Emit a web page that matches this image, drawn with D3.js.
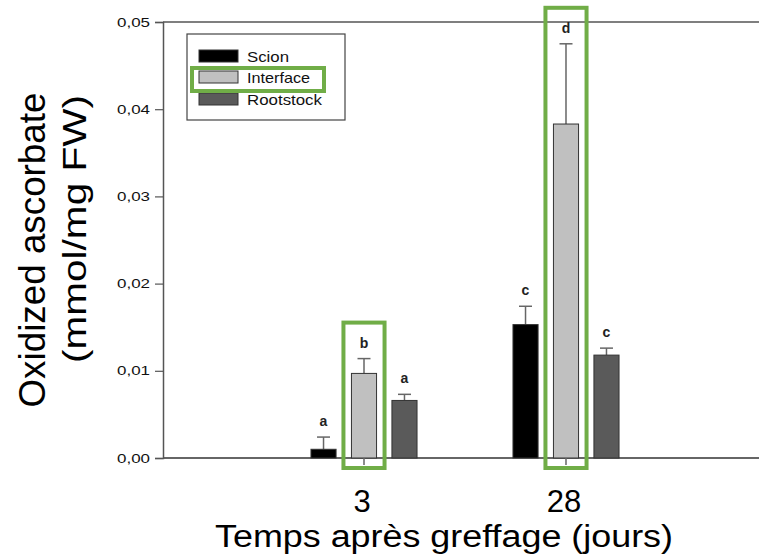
<!DOCTYPE html>
<html>
<head>
<meta charset="utf-8">
<script src="https://cdn.jsdelivr.net/npm/d3@7"></script>
<style>
  body { margin: 0; background: #fff; }
  text { font-family: "Liberation Sans", Arial, sans-serif; }
</style>
</head>
<body>
<script>
var days = ["3", "28"];
var series = ["Scion", "Interface", "Rootstock"];
var means = {
    Scion: [0.0010, 0.0153],
    Interface: [0.0097, 0.0383],
    Rootstock: [0.0066, 0.0118]
};
var errors = {
    Scion: [0.0014, 0.0021],
    Interface: [0.0017, 0.0092],
    Rootstock: [0.0007, 0.0008]
};
var letters = {
    Scion: ["a", "c"],
    Interface: ["b", "d"],
    Rootstock: ["a", "c"]
};
var yTicks = [0, 0.01, 0.02, 0.03, 0.04, 0.05];

var svgWidth = 759;
var svgHeight = 557;
var colors = { Scion: "#000000", Interface: "#c0c0c0", Rootstock: "#5a5a5a" };
var green = "#70ad47";

var svg = d3.select("body").append("svg")
    .attr("width", svgWidth)
    .attr("height", svgHeight);

var plotLeft = 163, plotRight = 759, plotTop = 22, plotBottom = 458;

var yScale = d3.scaleLinear().domain([0, 0.05]).range([plotBottom, plotTop]);

var x0 = d3.scaleBand().domain(days)
    .range([263, 667])
    .paddingInner(0.475)
    .paddingOuter(0.2375);

var x1 = d3.scaleBand().domain(series)
    .range([0, x0.bandwidth()])
    .paddingInner(0.38)
    .paddingOuter(0);

// frame lines
svg.append("line")
    .attr("x1", plotLeft).attr("x2", plotRight)
    .attr("y1", plotTop).attr("y2", plotTop)
    .attr("stroke", "#555").attr("stroke-width", 1.5);
svg.append("line")
    .attr("x1", plotLeft).attr("x2", plotRight)
    .attr("y1", plotBottom).attr("y2", plotBottom)
    .attr("stroke", "#333").attr("stroke-width", 1.5);

// y axis
var leftAxis = d3.axisLeft(yScale)
    .tickValues(yTicks)
    .tickSize(8)
    .tickPadding(5)
    .tickFormat(d => d3.format(".2f")(d).replace(".", ","));

var yAxis = svg.append("g")
    .attr("transform", `translate(${plotLeft}, 0)`)
    .call(leftAxis);
yAxis.select(".domain").attr("stroke", "#555").attr("stroke-width", 1.5);
yAxis.selectAll(".tick line").attr("stroke", "#555").attr("stroke-width", 1.2);
yAxis.selectAll(".tick text")
    .attr("font-size", 13)
    .attr("font-family", "Liberation Sans, Arial, sans-serif")
    .attr("fill", "#111")
    .attr("textLength", 33)
    .attr("lengthAdjust", "spacingAndGlyphs");

// bars
var groups = svg.selectAll("g.day").data(days).enter().append("g")
    .attr("class", "day")
    .attr("transform", d => `translate(${x0(d)}, 0)`);

series.forEach(function(s) {
    groups.each(function(d, i) {
        var g = d3.select(this);
        var bx = x1(s);
        var bw = x1.bandwidth();
        var cx = bx + bw / 2;
        var m = means[s][i];
        var e = errors[s][i];

        // error bar (upper)
        g.append("line")
            .attr("x1", cx).attr("x2", cx)
            .attr("y1", yScale(m)).attr("y2", yScale(m + e))
            .attr("stroke", "#666").attr("stroke-width", 1.5);
        g.append("line")
            .attr("x1", cx - 6.5).attr("x2", cx + 6.5)
            .attr("y1", yScale(m + e)).attr("y2", yScale(m + e))
            .attr("stroke", "#666").attr("stroke-width", 1.5);

        g.append("rect")
            .attr("x", bx)
            .attr("y", yScale(m))
            .attr("width", bw)
            .attr("height", yScale(0) - yScale(m))
            .attr("fill", colors[s])
            .attr("stroke", "#333")
            .attr("stroke-width", 1);

        g.append("text")
            .attr("x", cx)
            .attr("y", yScale(m + e) - 11)
            .attr("text-anchor", "middle")
            .attr("font-size", 14)
            .attr("font-weight", "bold")
            .attr("fill", "#222")
            .text(letters[s][i]);

        if (s === "Interface") {
            g.append("line")
                .attr("x1", cx).attr("x2", cx)
                .attr("y1", yScale(0)).attr("y2", yScale(0) + 7)
                .attr("stroke", "#666").attr("stroke-width", 1.5);
            g.append("rect")
                .attr("x", bx - 8)
                .attr("y", yScale(m + e) - 36)
                .attr("width", bw + 16)
                .attr("height", yScale(0) + 10 - (yScale(m + e) - 36))
                .attr("fill", "none")
                .attr("stroke", green)
                .attr("stroke-width", 4);
        }
    });
});

// x tick labels
svg.selectAll("text.xtick").data(days).enter().append("text")
    .attr("class", "xtick")
    .attr("x", d => x0(d) + x0.bandwidth() / 2 - 2)
    .attr("y", 512)
    .attr("text-anchor", "middle")
    .attr("font-size", 31)
    .attr("fill", "#000")
    .text(d => d);

// axis titles
svg.append("text")
    .attr("x", 444)
    .attr("y", 547)
    .attr("text-anchor", "middle")
    .attr("font-size", 31)
    .attr("fill", "#000")
    .attr("textLength", 458)
    .attr("lengthAdjust", "spacingAndGlyphs")
    .text("Temps après greffage (jours)");

var yTitle = svg.append("g").attr("transform", "rotate(-90)");
yTitle.append("text")
    .attr("x", -250).attr("y", 45)
    .attr("text-anchor", "middle")
    .attr("font-size", 36)
    .attr("textLength", 315)
    .attr("lengthAdjust", "spacingAndGlyphs")
    .text("Oxidized ascorbate");
yTitle.append("text")
    .attr("x", -229).attr("y", 86)
    .attr("text-anchor", "middle")
    .attr("font-size", 33)
    .attr("textLength", 268)
    .attr("lengthAdjust", "spacingAndGlyphs")
    .text("(mmol/mg FW)");

// legend
var legend = svg.append("g");
legend.append("rect")
    .attr("x", 187).attr("y", 34)
    .attr("width", 158).attr("height", 86)
    .attr("fill", "#fff")
    .attr("stroke", "#444")
    .attr("stroke-width", 1.2);

var legendRows = [50, 71, 93];
var legendWidths = [42, 63, 75];
series.forEach(function(s, i) {
    legend.append("rect")
        .attr("x", 199).attr("y", legendRows[i])
        .attr("width", 39).attr("height", 12)
        .attr("fill", colors[s])
        .attr("stroke", "#333")
        .attr("stroke-width", 1);
    legend.append("text")
        .attr("x", 247).attr("y", legendRows[i] + 12)
        .attr("font-size", 15)
        .attr("fill", "#111")
        .attr("textLength", legendWidths[i])
        .attr("lengthAdjust", "spacingAndGlyphs")
        .text(s);
});
legend.append("rect")
    .attr("x", 192).attr("y", 68)
    .attr("width", 132).attr("height", 23)
    .attr("fill", "none")
    .attr("stroke", green)
    .attr("stroke-width", 4);
</script>
</body>
</html>
